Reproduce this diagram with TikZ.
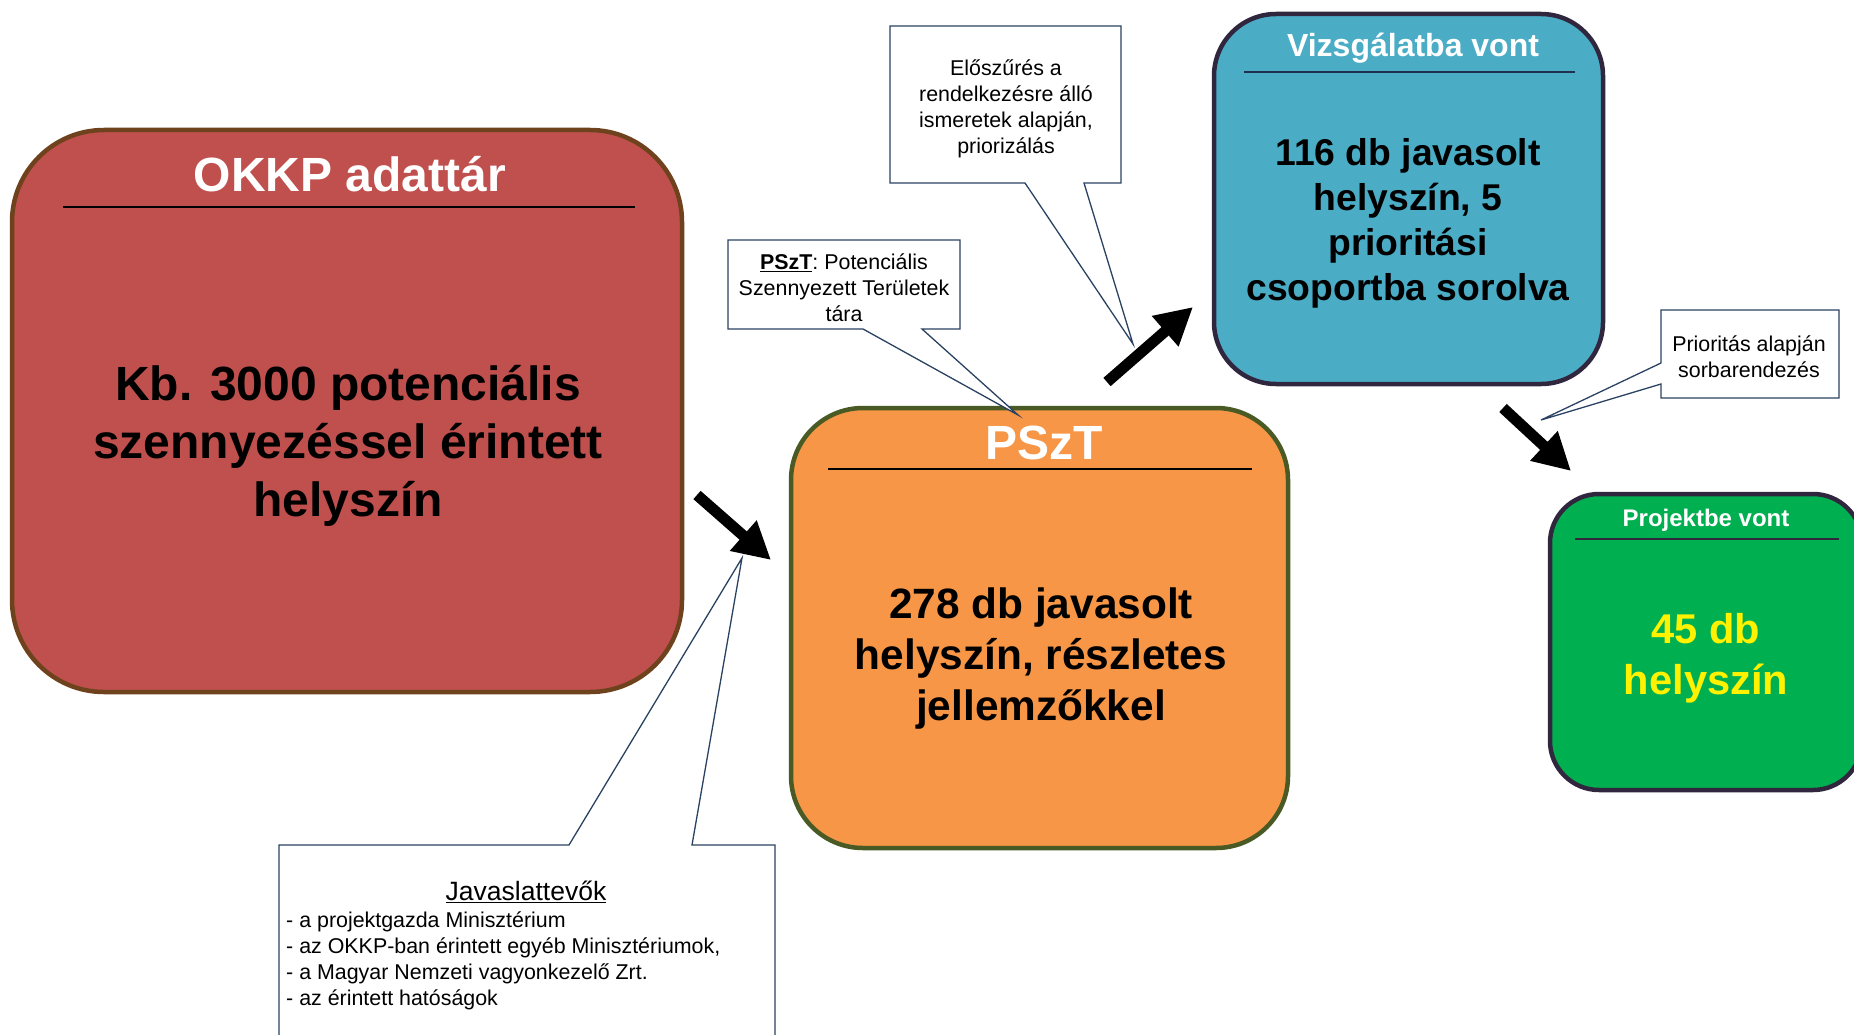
\documentclass[tikz,border=0pt]{standalone}
\usepackage{fontspec}
\setmainfont{Liberation Sans}
\usetikzlibrary{arrows.meta}
\definecolor{okkpfill}{HTML}{C0504D}
\definecolor{okkpline}{HTML}{6E421D}
\definecolor{psztfill}{HTML}{F79646}
\definecolor{psztline}{HTML}{4A5A24}
\definecolor{vizsfill}{HTML}{4BACC6}
\definecolor{darkline}{HTML}{30273F}
\definecolor{projfill}{HTML}{00B050}
\definecolor{calloutc}{HTML}{2A4262}
\definecolor{rulenavy}{HTML}{1F3050}
\begin{document}
\begin{tikzpicture}[x=1pt,y=-1pt,
  box/.style={draw, line width=4.5pt, inner sep=0pt, outer sep=0pt},
  titletext/.style={text=white, inner sep=0pt, align=center},
  bodytext/.style={text=black, inner sep=0pt, align=center},
  callout/.style={draw=calloutc, line width=1.3pt, fill=white, line join=miter},
  callouttext/.style={inner sep=0pt, align=center, font=\fontsize{21.4}{26}\selectfont},
  bigarrow/.style={line width=11pt, line cap=butt, -{Triangle[length=37pt,width=38pt]}},
  titlerule/.style={line width=2.5pt}
]
\useasboundingbox (0,0) rectangle (1854,1035);
\clip (0,0) rectangle (1854,1035);

% OKKP box
\node[box, draw=okkpline, fill=okkpfill, rounded corners=92pt,
      minimum width=670pt, minimum height=562pt] (okkp) at (347,411) {};
\node[titletext, font=\fontsize{48}{58}\selectfont\bfseries] (okkpt) at (350,174) {OKKP adattár};
\coordinate (okkpr1) at (63,207);
\coordinate (okkpr2) at (635,207);
\draw[titlerule, black] (okkpr1) -- (okkpr2);
\node[bodytext, font=\fontsize{48}{58}\selectfont\bfseries] (okkpb) at (348,446)
  {Kb. 3000 potenciális\\szennyezéssel érintett\\helyszín};

% PSzT box
\node[box, draw=psztline, fill=psztfill, rounded corners=72pt,
      minimum width=497pt, minimum height=440pt] (pszt) at (1039.5,628) {};
\node[titletext, font=\fontsize{48}{58}\selectfont\bfseries] (psztt) at (1044,443) {PSzT};
\coordinate (psztr1) at (828,469);
\coordinate (psztr2) at (1252,469);
\draw[titlerule, black] (psztr1) -- (psztr2);
\node[bodytext, font=\fontsize{42.4}{51}\selectfont\bfseries] (psztb) at (1041,659)
  {278 db javasolt\\helyszín, részletes\\jellemzőkkel};

% Vizsgalatba box
\node[box, draw=darkline, fill=vizsfill, rounded corners=62pt,
      minimum width=389pt, minimum height=370pt] (vizs) at (1408.5,199) {};
\node[titletext, font=\fontsize{32}{38}\selectfont\bfseries] (vizst) at (1413,48) {Vizsgálatba vont};
\coordinate (vizsr1) at (1244,72);
\coordinate (vizsr2) at (1575,72);
\draw[line width=2pt, rulenavy] (vizsr1) -- (vizsr2);
\node[bodytext, font=\fontsize{37.3}{45}\selectfont\bfseries] (vizsb) at (1408,223)
  {116 db javasolt\\helyszín, 5\\prioritási\\csoportba sorolva};

% Projektbe box
\node[box, draw=darkline, fill=projfill, rounded corners=49pt,
      minimum width=312pt, minimum height=296pt] (proj) at (1706,642) {};
\node[titletext, font=\fontsize{24}{29}\selectfont\bfseries] (projt) at (1706,520) {Projektbe vont};
\coordinate (projr1) at (1575,539);
\coordinate (projr2) at (1839,539);
\draw[titlerule, darkline] (projr1) -- (projr2);
\node[bodytext, text=yellow, font=\fontsize{41.6}{51}\selectfont\bfseries] (projb) at (1706,658)
  {45 db\\helyszín};

% Arrows
\coordinate (a1s) at (697,495);
\coordinate (a1e) at (771,560);
\coordinate (a2s) at (1107,382);
\coordinate (a2e) at (1193,307);
\coordinate (a3s) at (1503,408);
\coordinate (a3e) at (1571,471);
\draw[bigarrow] (a1s) -- (a1e);
\draw[bigarrow] (a2s) -- (a2e);
\draw[bigarrow] (a3s) -- (a3e);

% Callout 1
\coordinate (c1tip) at (1133,344);
\draw[callout] (890,26) -- (1121,26) -- (1121,183) -- (1084,183) -- (c1tip) -- (1025,183) -- (890,183) -- cycle;
\node[callouttext] (c1) at (1006,108.5)
  {Előszűrés a\\rendelkezésre álló\\ismeretek alapján,\\priorizálás};

% Callout 2
\coordinate (c2tip) at (1018,415);
\draw[callout] (728,240) -- (960,240) -- (960,329) -- (922,329) -- (c2tip) -- (863,329) -- (728,329) -- cycle;
\node[callouttext] (c2) at (844,287.5)
  {\underline{\textbf{PSzT}}:~Potenciális\\Szennyezett Területek\\tára};

% Callout 3
\coordinate (c3tip) at (1541,420);
\draw[callout] (1661,310) -- (1839,310) -- (1839,398) -- (1661,398) -- (1661,384) -- (c3tip) -- (1661,363) -- cycle;
\node[callouttext] (c3) at (1749,357)
  {Prioritás alapján\\sorbarendezés};

% Callout 4
\coordinate (c4tip) at (742,558);
\draw[callout] (279,845) -- (569,845) -- (c4tip) -- (692,845) -- (775,845) -- (775,1060) -- (279,1060) -- cycle;
\node[callouttext, font=\fontsize{26.5}{30}\selectfont] (c4t) at (526,892) {\underline{Javaslattevők}};
\node[callouttext, align=left, anchor=west] (c4l) at (286,961)
  {- a projektgazda Minisztérium\\- az OKKP-ban érintett egyéb Minisztériumok,\\- a Magyar Nemzeti vagyonkezelő Zrt.\\- az érintett hatóságok};
\end{tikzpicture}
\end{document}
